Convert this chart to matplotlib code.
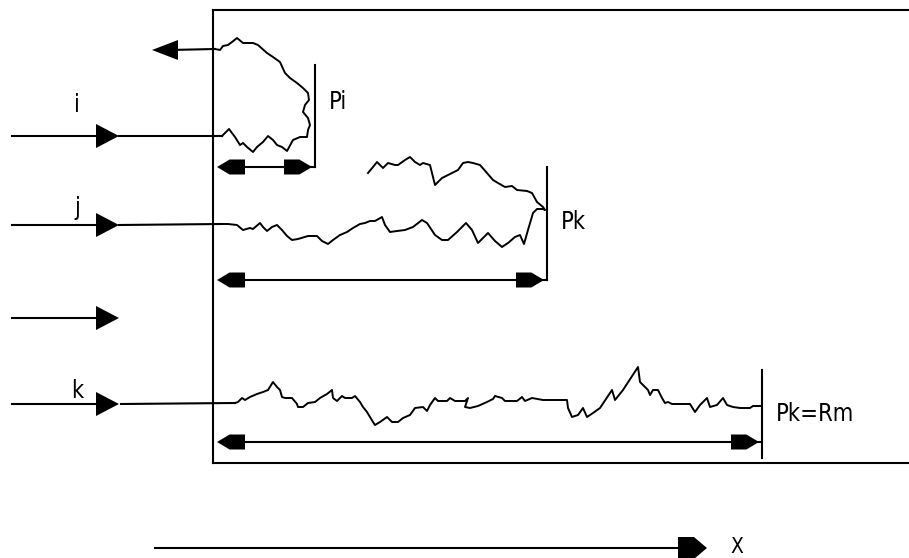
import matplotlib
matplotlib.use('Agg')
import matplotlib.pyplot as plt

# --- data (pixel coordinates, y grows downward) ---
# walk of particle i: enters, wanders, turns back and leaves to the left
walk_i_x = [222, 229, 235, 240, 243, 247, 253, 257, 263, 268, 273, 277, 282, 287, 293,
            300, 307, 308, 310, 308, 303, 305, 309, 308, 303, 297, 290, 285, 280, 273,
            267, 258, 253, 243, 237, 232, 228, 223, 220, 215]
walk_i_y = [136, 129, 137, 145, 143, 147, 152, 147, 142, 136, 140, 145, 147, 151, 140,
            137, 137, 130, 125, 118, 112, 105, 100, 93, 88, 83, 78, 73, 62, 57,
            53, 45, 43, 43, 38, 42, 45, 46, 50, 49]

# walk of particle j: goes in to Pk then drifts back
walk_j_x = [222, 228, 237, 243, 250, 253, 260, 263, 267, 272, 277, 282, 287, 292, 298,
            308, 317, 322, 328, 333, 340, 347, 353, 360, 365, 370, 375, 382, 385, 390,
            397, 405, 413, 422, 427, 435, 442, 448, 457, 466, 472, 478, 483, 488, 495,
            502, 508, 515, 520, 524, 528, 533, 537, 543, 545,
            543, 537, 532, 527, 517, 512, 505, 498, 493, 487, 480, 473, 468, 463, 458,
            450, 442, 435, 432, 430, 423, 420, 415, 410, 405, 398, 395, 388, 383, 380,
            377, 373, 368]
walk_j_y = [224, 224, 225, 230, 228, 229, 223, 227, 231, 227, 225, 230, 236, 240, 239,
            236, 236, 241, 244, 240, 235, 232, 228, 224, 223, 221, 221, 217, 225, 232,
            231, 230, 227, 220, 223, 235, 240, 240, 232, 223, 230, 243, 238, 233, 241,
            247, 243, 237, 235, 244, 230, 213, 209, 209, 210,
            207, 202, 193, 191, 190, 186, 187, 183, 180, 173, 165, 163, 162, 163, 170,
            174, 178, 185, 173, 165, 163, 165, 162, 157, 160, 165, 165, 163, 168, 165,
            162, 167, 173]

# walk of particle k: crosses to Pk = Rm
walk_k_x = [235, 238, 242, 245, 250, 257, 263, 268, 273, 277, 280, 282, 285, 292, 297,
            298, 303, 308, 315, 320, 327, 332, 333, 337, 342, 345, 352, 355, 360, 363,
            367, 370, 373, 375, 380, 387, 392, 398, 403, 410, 415, 423, 427, 430, 435,
            438, 447, 450, 455, 465, 468, 465, 470, 478, 487, 493, 495, 502, 505, 517,
            522, 525, 532, 543, 567, 568, 572, 578, 583, 587, 593, 600, 612, 615, 623,
            638, 640, 648, 650, 653, 658, 662, 665, 668, 672, 680, 690, 695, 700, 707,
            710, 717, 723, 727, 733, 740, 750, 753, 760]
walk_k_y = [403, 402, 398, 400, 397, 394, 392, 390, 382, 387, 390, 397, 398, 398, 404,
            407, 407, 403, 402, 398, 394, 390, 398, 401, 396, 398, 398, 396, 402, 407,
            412, 417, 422, 425, 422, 417, 422, 422, 418, 415, 408, 407, 411, 405, 398,
            401, 401, 398, 401, 401, 398, 407, 408, 406, 402, 399, 396, 398, 401, 401,
            397, 401, 398, 400, 400, 408, 417, 415, 408, 417, 413, 408, 390, 400, 390,
            367, 382, 390, 395, 390, 390, 398, 403, 402, 404, 404, 404, 412, 405, 398,
            407, 405, 398, 405, 407, 408, 408, 406, 406]

# incoming particle rows (y) and labels
entry_y = [136, 225, 318, 404]
entry_labels = ['i', 'j', '', 'k']
label_y = [105, 208, 0, 391]

# penetration depths
depth_x = [315, 547, 762]
depth_top = [65, 167, 370]
depth_bot = [167, 280, 458]
span_y = [167, 280, 442]
depth_labels = ['Pi', 'Pk', 'Pk=Rm']
depth_label_y = [102, 222, 414]

BOX_L, BOX_T, BOX_B = 213, 10, 463
LW = 1.5


def tri_head(ax, tip_x, y, direction, length, half):
    # plain triangular head, flat back
    back = tip_x - direction * length
    ax.fill([tip_x, back, back], [y, y - half, y + half], color='black', lw=0)


def span_head(ax, tip_x, y, direction, length, half):
    # head with a flat block behind the taper
    d = direction
    xs = [tip_x, tip_x - d * length * 0.45, tip_x - d * length, tip_x - d * length,
          tip_x - d * length * 0.45]
    ys = [y - 1.5, y - half, y - half, y + half, y + half]
    ys[0] = y
    ax.fill(xs, ys, color='black', lw=0)


def label(ax, x, y, s, ha='left', size=17):
    ax.text(x, y, s, fontsize=size, family='DejaVu Sans', fontstretch='condensed',
            fontweight='light', ha=ha, va='center')


fig = plt.figure(figsize=(9.09, 5.58), dpi=100)
ax = fig.add_axes([0, 0, 1, 1])
ax.set_xlim(0, 909)
ax.set_ylim(558, 0)
ax.axis('off')

# target box
ax.plot([BOX_L, 909], [BOX_T, BOX_T], color='black', lw=LW)
ax.plot([BOX_L, BOX_L], [BOX_T, BOX_B], color='black', lw=LW)
ax.plot([BOX_L, 909], [BOX_B, BOX_B], color='black', lw=LW)

# incoming arrows
for y, lab, ly in zip(entry_y, entry_labels, label_y):
    ax.plot([12, 100], [y, y], color='black', lw=LW)
    tri_head(ax, 119, y, 1, 23, 12)
    if lab:
        label(ax, 77, ly, lab, ha='center')

# lines carrying i, j, k to the surface
ax.plot([119, walk_i_x[0]], [entry_y[0], walk_i_y[0]], color='black', lw=LW)
ax.plot([119, walk_j_x[0]], [entry_y[1], walk_j_y[0]], color='black', lw=LW)
ax.plot([121, walk_k_x[0]], [entry_y[3], walk_k_y[0]], color='black', lw=LW)

# random walks
ax.plot(walk_i_x, walk_i_y, color='black', lw=1.4)
ax.plot(walk_j_x, walk_j_y, color='black', lw=1.4)
ax.plot(walk_k_x, walk_k_y, color='black', lw=1.4)

# backscattered particle leaving
ax.plot([170, walk_i_x[-1]], [50, walk_i_y[-1]], color='black', lw=LW)
tri_head(ax, 152, 50, -1, 26, 10)

# penetration markers and double arrows
for x, t, b, sy, lab, ly in zip(depth_x, depth_top, depth_bot, span_y,
                                depth_labels, depth_label_y):
    ax.plot([x, x], [t, b], color='black', lw=LW)
    ax.plot([230, x], [sy, sy], color='black', lw=LW)
    span_head(ax, 217, sy, -1, 28, 7.5)
    span_head(ax, x - 3, sy, 1, 28, 7.5)
    label(ax, x + 14, ly, lab)

# depth axis
ax.plot([155, 690], [548, 548], color='black', lw=LW)
span_head(ax, 707, 548, 1, 29, 11)
label(ax, 737, 547, 'X', ha='center', size=15)

fig.savefig('out.png', dpi=100)
